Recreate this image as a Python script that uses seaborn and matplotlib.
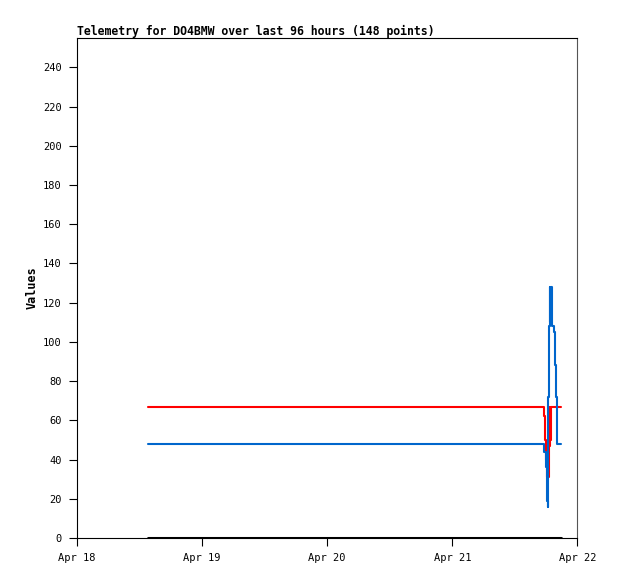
import pandas as pd
import matplotlib
matplotlib.use("Agg")
import matplotlib.pyplot as plt
import matplotlib.dates as mdates
import seaborn as sns

# hours after Apr 18 00:00
base = pd.Timestamp("2024-04-18")

blue_hours = [13.6, 89.66, 89.98, 90.18, 90.3, 90.43, 90.56, 90.69, 90.82, 90.94,
              91.07, 91.2, 91.46, 91.71, 91.97, 92.1, 92.93]
blue_vals = [48, 44, 36, 19, 16, 72, 108, 128, 110, 128, 120, 108, 105, 88, 72, 48, 48]

red_hours = [13.6, 89.6, 89.79, 89.98, 90.24, 90.56, 90.69, 90.82, 90.94, 92.93]
red_vals = [67, 62, 50, 40, 31, 47, 67, 50, 67, 67]

black_hours = [13.6, 92.93]
black_vals = [0, 0]

y_ticks = list(range(0, 241, 20))
title = "Telemetry for DO4BMW over last 96 hours (148 points)"


def to_frame(hours, vals):
    return pd.DataFrame({
        "time": [base + pd.Timedelta(hours=h) for h in hours],
        "value": vals,
    })


sns.set_style("ticks")
plt.rcParams["font.family"] = ["DejaVu Sans Mono"]
plt.rcParams["text.color"] = "black"
plt.rcParams["axes.labelcolor"] = "black"
plt.rcParams["xtick.color"] = "black"
plt.rcParams["ytick.color"] = "black"

fig = plt.figure(figsize=(6.18, 5.79), dpi=100)
ax = fig.add_axes([0.1246, 0.0708, 0.8098, 0.8636])

sns.lineplot(data=to_frame(black_hours, black_vals), x="time", y="value", ax=ax,
             color="black", linewidth=2.2, drawstyle="steps-post", estimator=None)
sns.lineplot(data=to_frame(red_hours, red_vals), x="time", y="value", ax=ax,
             color="#ff0000", linewidth=1.5, drawstyle="steps-post", estimator=None)
sns.lineplot(data=to_frame(blue_hours, blue_vals), x="time", y="value", ax=ax,
             color="#0066cc", linewidth=1.5, drawstyle="steps-post", estimator=None)

ax.set_xlim(base, base + pd.Timedelta(days=4))
ax.set_ylim(0, 255)
ax.set_yticks(y_ticks)
ax.xaxis.set_major_locator(mdates.DayLocator())
ax.xaxis.set_major_formatter(mdates.DateFormatter("%b %d"))

ax.tick_params(labelsize=7.5, length=6, width=0.8, colors="black", pad=5)
for side in ["top", "bottom", "left", "right"]:
    ax.spines[side].set_visible(True)
    ax.spines[side].set_color("black")
    ax.spines[side].set_linewidth(0.8)
ax.spines["right"].set_color("#555555")

ax.set_xlabel("")
ax.set_ylabel("Values", fontsize=8.5, fontweight="bold", labelpad=3)
ax.set_title(title, loc="left", fontsize=8.3, fontweight="bold", pad=2)

fig.savefig("out.png", dpi=100)
